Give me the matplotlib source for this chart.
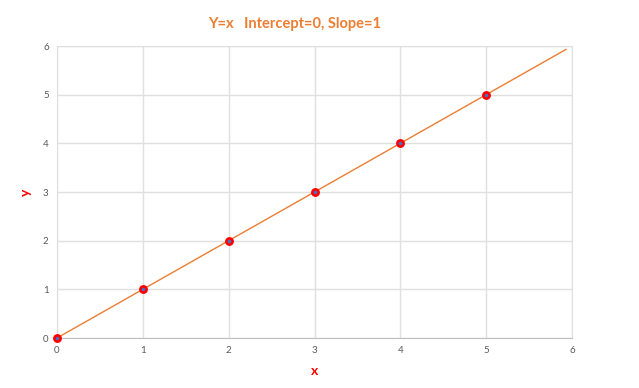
import numpy as np
import matplotlib
matplotlib.use('Agg')
import matplotlib.pyplot as plt

# Точки данных
x_pts = [0, 1, 2, 3, 4, 5]
y_pts = [0, 1, 2, 3, 4, 5]

# Линия тренда (продлена вперёд)
line_x = [0, 5.93]
line_y = [0, 5.93]

ticks = [0, 1, 2, 3, 4, 5, 6]

plt.rcParams['font.family'] = ['Lato', 'DejaVu Sans']

fig = plt.figure(figsize=(6.39, 3.88), dpi=100)
ax = fig.add_axes([57 / 639, 1 - 338 / 388, (572 - 57) / 639, (338 - 46) / 388])

ax.plot(line_x, line_y, color='#ED7D31', lw=1, zorder=2)
ax.scatter(x_pts, y_pts, s=20, facecolor='#4472C4', edgecolor='#FF0000',
           linewidths=1.9, zorder=3, clip_on=False)

ax.set_xlim(0, 6)
ax.set_ylim(0, 6)
ax.set_xticks(ticks)
ax.set_yticks(ticks)
ax.grid(True, color='#e0e0e0', lw=1)
ax.set_axisbelow(True)
for s in ax.spines.values():
    s.set_color('#e0e0e0')
ax.spines['bottom'].set_color('#bfbfbf')
ax.tick_params(length=0, labelsize=7, labelcolor='#595959', pad=6)

ax.set_xlabel('x', color='#FF0000', fontweight='bold', fontsize=10, labelpad=7)
ax.set_ylabel('y', color='#FF0000', fontweight='bold', fontsize=10, labelpad=8)

fig.text(295 / 639, 1 - 24 / 388, 'Y=x   Intercept=0, Slope=1', color='#ED7D31',
         fontweight='bold', fontsize=10.5, ha='center', va='center')

fig.savefig('out.png', dpi=100, facecolor='white')
